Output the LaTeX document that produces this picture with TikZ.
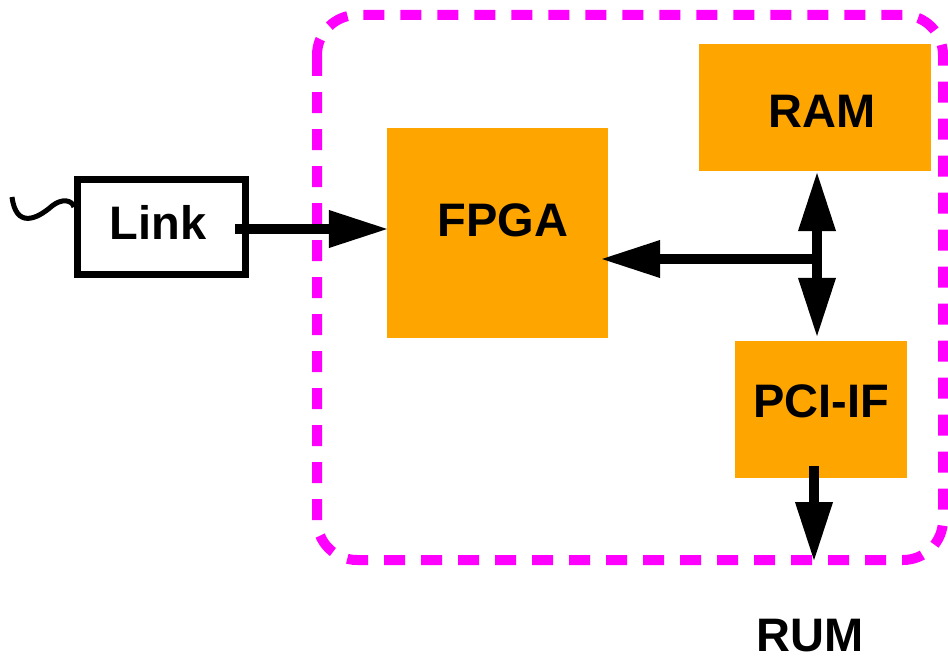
\documentclass[tikz,border=0pt]{standalone}
\usepackage{fontspec}
\setmainfont{Liberation Sans}
\usetikzlibrary{arrows.meta}
\definecolor{chiporange}{RGB}{255,165,0}
\definecolor{boardmag}{RGB}{255,0,255}
\begin{document}
\begin{tikzpicture}[x=1pt,y=-1pt,
  lbl/.style={inner sep=0pt,font=\fontsize{47}{52}\selectfont\bfseries},
  chip/.style={fill=chiporange,draw=none,inner sep=0pt},
  linkbox/.style={draw=black,line width=7pt,fill=white,inner sep=0pt},
  bus/.style={line width=10pt,-{Triangle[length=60pt,width=35pt]}},
  dbus/.style={line width=10pt,{Triangle[length=60pt,width=35pt]}-{Triangle[length=60pt,width=35pt]}},
  board/.style={draw=boardmag,line width=10pt,dash pattern=on 21pt off 16pt,rounded corners=40pt}
]
\useasboundingbox (0,0) rectangle (948,661);
\fill[white] (0,0) rectangle (948,661);
% board outline
\draw[board] (317,15) rectangle (943,560);
% blocks
\node[chip,minimum width=221pt,minimum height=210pt] (fpga) at (497.5,233) {};
\node[lbl] (fpgat) at (503,220) {FPGA};
\node[chip,minimum width=232pt,minimum height=127pt] (ram) at (815,107.5) {};
\node[lbl] (ramt) at (822,111) {RAM};
\node[chip,minimum width=172pt,minimum height=137pt] (pci) at (821,409.5) {};
\node[lbl] (pcit) at (821,401) {PCI-IF};
\node[linkbox,minimum width=168pt,minimum height=95pt] (link) at (161.5,226.5) {};
\node[lbl] (linkt) at (158,222) {Link};
% tilde on link input
\coordinate (tstart) at (12,197);
\draw[line width=5pt] (tstart) .. controls (16,228) and (36,220) .. (52,206)
  .. controls (62,198) and (72,200) .. (link.west |- 0,207);
% connectors
\coordinate (lk) at (235,229);
\draw[bus] (lk) -- ([xshift=2pt]fpga.west |- lk);
\coordinate (j) at (817,259);
\draw[bus] ([xshift=3pt]j) -- ([xshift=-8pt]fpga.east |- j);
\draw[dbus] (ram.south -| j) -- ([yshift=3pt]pci.north -| j);
\coordinate (pcio) at (814,466);
\coordinate (out) at (814,562);
\draw[bus] (pcio) -- (out);
% label
\node[lbl] (rum) at (810,636) {RUM};
\end{tikzpicture}
\end{document}
